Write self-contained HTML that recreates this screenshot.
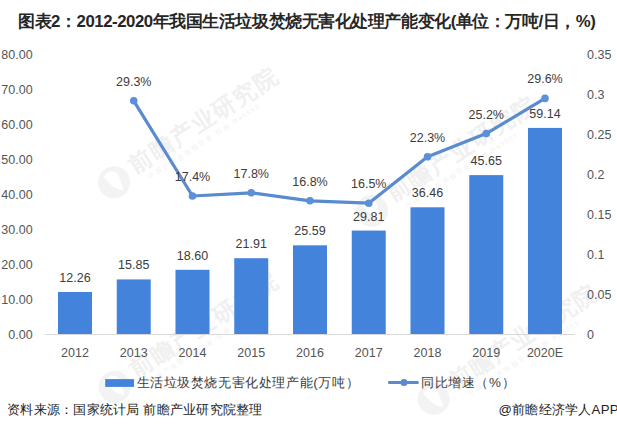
<!DOCTYPE html>
<html><head><meta charset="utf-8"><style>
html,body{margin:0;padding:0;background:#fff;}
body{width:617px;height:430px;overflow:hidden;position:relative;font-family:"Liberation Sans", sans-serif;}
svg{position:absolute;left:0;top:0;}
.lb{font-family:"Liberation Sans", sans-serif;font-size:12.5px;fill:#3c3c3c;}
.ax{font-family:"Liberation Sans", sans-serif;font-size:12.5px;fill:#555;}
.wm1{font-family:"Liberation Sans", sans-serif;font-size:23px;font-weight:bold;fill:#f0f0f0;}
.wm2{font-family:"Liberation Sans", sans-serif;font-size:6.5px;letter-spacing:1.5px;fill:#f1f1f1;}
.lg{font-family:"Liberation Sans", sans-serif;font-size:13.4px;fill:#3c3c3c;}
.ti{font-family:"Liberation Sans", sans-serif;font-size:16.8px;font-weight:bold;fill:#262626;}
.ft{font-family:"Liberation Sans", sans-serif;font-size:13.2px;font-weight:500;fill:#222;}
</style></head><body>
<svg width="617" height="430" viewBox="0 0 617 430">
<g transform="translate(140.4,160.4) rotate(-33)"><circle cx="-34" cy="4" r="16" fill="#f3f3f3"/><path d="M-40,-6 Q-30,-10 -26,-2 L-30,16 Q-36,12 -38,4 Z" fill="#fff"/><text x="0.0 24.7 49.4 74.1 98.8 123.5 148.2" y="8.5" class="wm1" text-anchor="middle">前瞻产业研究院</text><text x="-2" y="21" class="wm2">中国产业咨询领导者·前瞻 Ra5555</text></g>
<g transform="translate(398.4,188.9) rotate(-33)"><circle cx="-34" cy="4" r="16" fill="#f3f3f3"/><path d="M-40,-6 Q-30,-10 -26,-2 L-30,16 Q-36,12 -38,4 Z" fill="#fff"/><text x="0.0 24.7 49.4 74.1 98.8 123.5 148.2" y="8.5" class="wm1" text-anchor="middle">前瞻产业研究院</text><text x="-2" y="21" class="wm2">中国产业咨询领导者·前瞻 Ra5555</text></g>
<g transform="translate(141,365) rotate(-33)"><circle cx="-34" cy="4" r="16" fill="#f3f3f3"/><path d="M-40,-6 Q-30,-10 -26,-2 L-30,16 Q-36,12 -38,4 Z" fill="#fff"/><text x="0.0 24.7 49.4 74.1 98.8 123.5 148.2" y="8.5" class="wm1" text-anchor="middle">前瞻产业研究院</text><text x="-2" y="21" class="wm2">中国产业咨询领导者·前瞻 Ra5555</text></g>
<g transform="translate(460,377) rotate(-33)"><circle cx="-34" cy="4" r="16" fill="#f3f3f3"/><path d="M-40,-6 Q-30,-10 -26,-2 L-30,16 Q-36,12 -38,4 Z" fill="#fff"/><text x="0.0 24.7 49.4 74.1 98.8 123.5 148.2" y="8.5" class="wm1" text-anchor="middle">前瞻产业研究院</text><text x="-2" y="21" class="wm2">中国产业咨询领导者·前瞻 Ra5555</text></g>
<line x1="45" y1="334.5" x2="575" y2="334.5" stroke="#d9d9d9" stroke-width="1"/>
<rect x="58.00" y="291.99" width="34.0" height="42.01" fill="#4483dc"/>
<text x="75.00" y="281.99" class="lb" text-anchor="middle">12.26</text>
<text x="75.00" y="357.20" class="ax" text-anchor="middle">2012</text>
<rect x="116.75" y="279.42" width="34.0" height="54.58" fill="#4483dc"/>
<text x="133.75" y="269.42" class="lb" text-anchor="middle">15.85</text>
<text x="133.75" y="357.20" class="ax" text-anchor="middle">2013</text>
<rect x="175.50" y="269.80" width="34.0" height="64.20" fill="#4483dc"/>
<text x="192.50" y="259.80" class="lb" text-anchor="middle">18.60</text>
<text x="192.50" y="357.20" class="ax" text-anchor="middle">2014</text>
<rect x="234.25" y="258.21" width="34.0" height="75.79" fill="#4483dc"/>
<text x="251.25" y="248.21" class="lb" text-anchor="middle">21.91</text>
<text x="251.25" y="357.20" class="ax" text-anchor="middle">2015</text>
<rect x="293.00" y="245.33" width="34.0" height="88.67" fill="#4483dc"/>
<text x="310.00" y="235.33" class="lb" text-anchor="middle">25.59</text>
<text x="310.00" y="357.20" class="ax" text-anchor="middle">2016</text>
<rect x="351.75" y="230.56" width="34.0" height="103.44" fill="#4483dc"/>
<text x="368.75" y="220.56" class="lb" text-anchor="middle">29.81</text>
<text x="368.75" y="357.20" class="ax" text-anchor="middle">2017</text>
<rect x="410.50" y="207.29" width="34.0" height="126.71" fill="#4483dc"/>
<text x="427.50" y="197.29" class="lb" text-anchor="middle">36.46</text>
<text x="427.50" y="357.20" class="ax" text-anchor="middle">2018</text>
<rect x="469.25" y="175.12" width="34.0" height="158.88" fill="#4483dc"/>
<text x="486.25" y="165.12" class="lb" text-anchor="middle">45.65</text>
<text x="486.25" y="357.20" class="ax" text-anchor="middle">2019</text>
<rect x="528.00" y="127.91" width="34.0" height="206.09" fill="#4483dc"/>
<text x="545.00" y="117.91" class="lb" text-anchor="middle">59.14</text>
<text x="545.00" y="357.20" class="ax" text-anchor="middle">2020E</text>
<text x="32.6" y="339.40" class="ax" text-anchor="end">0.00</text>
<text x="32.6" y="304.40" class="ax" text-anchor="end">10.00</text>
<text x="32.6" y="269.40" class="ax" text-anchor="end">20.00</text>
<text x="32.6" y="234.40" class="ax" text-anchor="end">30.00</text>
<text x="32.6" y="199.40" class="ax" text-anchor="end">40.00</text>
<text x="32.6" y="164.40" class="ax" text-anchor="end">50.00</text>
<text x="32.6" y="129.40" class="ax" text-anchor="end">60.00</text>
<text x="32.6" y="94.40" class="ax" text-anchor="end">70.00</text>
<text x="32.6" y="59.40" class="ax" text-anchor="end">80.00</text>
<text x="587" y="339.40" class="ax">0</text>
<text x="587" y="299.40" class="ax">0.05</text>
<text x="587" y="259.40" class="ax">0.1</text>
<text x="587" y="219.40" class="ax">0.15</text>
<text x="587" y="179.40" class="ax">0.2</text>
<text x="587" y="139.40" class="ax">0.25</text>
<text x="587" y="99.40" class="ax">0.3</text>
<text x="587" y="59.40" class="ax">0.35</text>
<polyline fill="none" stroke="#5a8bcf" stroke-width="3.2" stroke-linejoin="round" points="133.75,100.80 192.50,196.00 251.25,192.80 310.00,200.80 368.75,203.20 427.50,156.80 486.25,133.60 545.00,98.40"/>
<circle cx="133.75" cy="100.80" r="3.8" fill="#5c90d8"/>
<text x="133.75" y="85.80" class="lb" text-anchor="middle">29.3%</text>
<circle cx="192.50" cy="196.00" r="3.8" fill="#5c90d8"/>
<text x="192.50" y="181.00" class="lb" text-anchor="middle">17.4%</text>
<circle cx="251.25" cy="192.80" r="3.8" fill="#5c90d8"/>
<text x="251.25" y="177.80" class="lb" text-anchor="middle">17.8%</text>
<circle cx="310.00" cy="200.80" r="3.8" fill="#5c90d8"/>
<text x="310.00" y="185.80" class="lb" text-anchor="middle">16.8%</text>
<circle cx="368.75" cy="203.20" r="3.8" fill="#5c90d8"/>
<text x="368.75" y="188.20" class="lb" text-anchor="middle">16.5%</text>
<circle cx="427.50" cy="156.80" r="3.8" fill="#5c90d8"/>
<text x="427.50" y="141.80" class="lb" text-anchor="middle">22.3%</text>
<circle cx="486.25" cy="133.60" r="3.8" fill="#5c90d8"/>
<text x="486.25" y="118.60" class="lb" text-anchor="middle">25.2%</text>
<circle cx="545.00" cy="98.40" r="3.8" fill="#5c90d8"/>
<text x="545.00" y="83.40" class="lb" text-anchor="middle">29.6%</text>
<rect x="105.2" y="379.1" width="28.8" height="7.8" fill="#4483dc"/>
<text x="143.00 156.59 170.19 183.79 197.38 210.98 224.59 238.19 251.79 265.38 278.99 292.59 306.19 315.52 324.84 338.45 352.05" y="386.5" class="lg" text-anchor="middle">生活垃圾焚烧无害化处理产能(万吨）</text>
<line x1="388.2" y1="382.5" x2="418.6" y2="382.5" stroke="#5a8bcf" stroke-width="3"/>
<circle cx="404" cy="382.5" r="3.6" fill="#5a8bcf"/>
<text x="427.50 441.09 454.69 468.30 481.88 494.94 508.00" y="386.5" class="lg" text-anchor="middle">同比增速（%）</text>
<text x="26.50 43.05 55.76 68.47 81.19 90.08 98.96 107.84 114.85 121.86 130.75 139.63 148.51 161.23 177.78 194.33 210.88 227.42 243.98 260.53 277.08 293.62 310.18 326.73 343.28 359.83 376.38 392.93 409.48 426.03 442.58 453.43 464.26 480.81 497.37 513.92 530.47 540.85 551.23 567.78 583.29 593.10" y="26.5" class="ti" text-anchor="middle">图表2：2012-2020年我国生活垃圾焚烧无害化处理产能变化(单位：万吨/日，%)</text>
<text x="13.50 26.75 40.00 53.25 66.50 79.75 93.00 106.25 119.50 132.75 141.33 149.91 163.16 176.41 189.66 202.91 216.16 229.41 242.66 255.91" y="413.5" class="ft" text-anchor="middle">资料来源：国家统计局 前瞻产业研究院整理</text>
<text x="505.19 518.63 531.88 545.13 558.38 571.63 584.88 596.02 605.07 614.12" y="413.5" class="ft" text-anchor="middle">@前瞻经济学人APP</text>
</svg>
</body></html>
